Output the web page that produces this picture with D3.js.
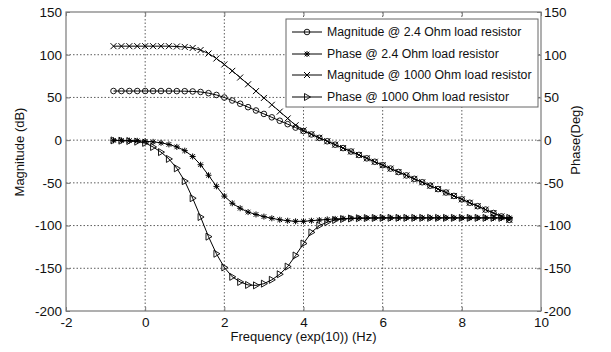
<!DOCTYPE html>
<html>
<head>
<meta charset="utf-8">
<script src="https://cdn.jsdelivr.net/npm/d3@7"></script>
<style>
  html, body { margin: 0; padding: 0; background: #fff; }
  svg { display: block; font-family: "Liberation Sans", Arial, sans-serif; }
</style>
</head>
<body>
<svg id="chart" width="611" height="352"></svg>
<script>
// ---------------- data ----------------
const freq = [-0.8,-0.6,-0.4,-0.2,0,0.2,0.4,0.6,0.8,1.0,1.2,1.4,1.6,1.8,2.0,2.2,2.4,2.6,2.8,3.0,
  3.2,3.4,3.6,3.8,4.0,4.2,4.4,4.6,4.8,5.0,5.2,5.4,5.6,5.8,6.0,6.2,6.4,6.6,6.8,7.0,
  7.2,7.4,7.6,7.8,8.0,8.2,8.4,8.6,8.8,9.0,9.2];

const mag24 = [57.5,57.5,57.5,57.5,57.5,57.5,57.5,57.5,57.4,57.3,57.0,56.4,55.0,52.9,49.9,46.4,42.6,38.6,34.7,30.7,
  26.7,22.7,18.7,14.7,10.7,6.7,2.7,-1.3,-5.3,-9.3,-13.3,-17.3,-21.3,-25.3,-29.3,-33.3,-37.3,-41.3,-45.3,-49.3,
  -53.3,-57.3,-61.3,-65.3,-69.3,-73.3,-77.3,-81.3,-85.3,-89.3,-93.3];

const phase24 = [-0.2,-0.3,-0.5,-0.8,-1.3,-2.0,-3.1,-5.0,-7.9,-12.3,-19.1,-28.8,-41.1,-54.1,-65.5,-73.9,-79.7,-84.2,-87.0,-89.5,
  -91.5,-93.2,-94.3,-95.0,-95.0,-94.3,-93.5,-92.8,-92.2,-91.8,-91.5,-91.3,-91.2,-91.1,-91.0,-91.0,-91.0,-91.0,-91.0,-91.0,
  -91.0,-91.0,-91.0,-91.0,-91.0,-91.0,-91.0,-91.0,-91.0,-91.0,-91.0];

const mag1000 = [110,110,110,110,110,110,110,110,109.6,109.1,107.9,105.5,101.4,95.6,88.6,81.1,73.3,65.4,57.4,49.4,
  41.4,33.4,25.4,17.4,11.5,6.9,2.8,-1.3,-5.3,-9.3,-13.3,-17.3,-21.3,-25.3,-29.3,-33.3,-37.3,-41.3,-45.3,-49.3,
  -53.3,-57.3,-61.3,-65.3,-69.3,-73.3,-77.3,-81.3,-85.3,-89.3,-93.3];

const phase1000 = [-0.3,-0.6,-1.0,-1.8,-3.2,-8,-14,-22,-33,-48,-68,-90,-113,-133,-149,-160,-166,-169.5,-170,-168,
  -163.5,-157,-148,-135,-121,-108,-100,-96,-93.5,-92.3,-91.7,-91.4,-91.2,-91.1,-91.0,-91.0,-91.0,-91.0,-91.0,-91.0,
  -91.0,-91.0,-91.0,-91.0,-91.0,-91.0,-91.0,-91.0,-91.0,-91.0,-91.0];

const xTicks = [-2,0,2,4,6,8,10];
const yTicks = [-200,-150,-100,-50,0,50,100,150];

const seriesNames = [
  "Magnitude @ 2.4 Ohm load resistor",
  "Phase @ 2.4 Ohm load resistor",
  "Magnitude @ 1000 Ohm load resistor",
  "Phase @ 1000 Ohm load resistor"
];
const seriesValues = [mag24, phase24, mag1000, phase1000];
const seriesMarkers = ["circle", "asterisk", "cross", "triangle"];

// ---------------- layout ----------------
const L = 66, R = 541, T = 12, B = 311;
const svg = d3.select("#chart");
svg.append("rect").attr("width", 611).attr("height", 352).attr("fill", "#fff");

const x = d3.scaleLinear().domain([-2, 10]).range([L, R]);
const yL = d3.scaleLinear().domain([-200, 150]).range([B, T]);
const yR = d3.scaleLinear().domain([-200, 150]).range([B, T]);
const fmt = d => String(d);

// grid
const grid = svg.append("g");
xTicks.filter(t => t > -2 && t < 10).forEach(t => {
  grid.append("line").attr("x1", x(t)).attr("x2", x(t)).attr("y1", T).attr("y2", B)
    .attr("stroke", "#333").attr("stroke-width", 0.8).attr("stroke-dasharray", "1.5,2");
});
yTicks.filter(t => t > -200 && t < 150).forEach(t => {
  grid.append("line").attr("x1", L).attr("x2", R).attr("y1", yL(t)).attr("y2", yL(t))
    .attr("stroke", "#333").attr("stroke-width", 0.8).attr("stroke-dasharray", "1.5,2");
});

// axes
const axisColor = "#7a7a7a";
function styleAxis(g) {
  g.select(".domain").remove();
  g.selectAll(".tick line").attr("stroke", axisColor);
  g.selectAll(".tick text").attr("fill", "#111").style("font-size", "13.5px")
    .style("font-family", "'Liberation Sans', Arial, sans-serif");
}
svg.append("g").attr("transform", `translate(0,${B})`)
  .call(d3.axisBottom(x).tickValues(xTicks).tickSize(-4).tickPadding(6).tickFormat(fmt))
  .call(styleAxis);
svg.append("g").attr("transform", `translate(0,${T})`)
  .call(d3.axisTop(x).tickValues(xTicks).tickSize(-4).tickFormat(""))
  .call(styleAxis);
svg.append("g").attr("transform", `translate(${L},0)`)
  .call(d3.axisLeft(yL).tickValues(yTicks).tickSize(-4).tickPadding(4).tickFormat(fmt))
  .call(styleAxis);
svg.append("g").attr("transform", `translate(${R},0)`)
  .call(d3.axisRight(yR).tickValues(yTicks).tickSize(-4).tickPadding(3).tickFormat(fmt))
  .call(styleAxis);

// frame
svg.append("rect").attr("x", L).attr("y", T).attr("width", R - L).attr("height", B - T)
  .attr("fill", "none").attr("stroke", axisColor).attr("stroke-width", 1.2);

// axis titles
svg.append("text").attr("x", (L + R) / 2).attr("y", 341).attr("text-anchor", "middle")
  .style("font-size", "13px").attr("fill", "#111").text("Frequency (exp(10)) (Hz)");
svg.append("text").attr("transform", "translate(24,152) rotate(-90)").attr("text-anchor", "middle")
  .style("font-size", "13px").attr("fill", "#111").text("Magnitude (dB)");
svg.append("text").attr("transform", "translate(580,140) rotate(-90)").attr("text-anchor", "middle")
  .style("font-size", "13px").attr("fill", "#111").text("Phase(Deg)");

// markers
function drawMarker(g, type, cx, cy) {
  const s = 3;
  if (type === "circle") {
    g.append("circle").attr("cx", cx).attr("cy", cy).attr("r", 2.8)
      .attr("fill", "none").attr("stroke", "#000").attr("stroke-width", 0.9);
  } else if (type === "cross") {
    g.append("path").attr("d", `M${cx - s},${cy - s}L${cx + s},${cy + s}M${cx - s},${cy + s}L${cx + s},${cy - s}`)
      .attr("stroke", "#000").attr("stroke-width", 1);
  } else if (type === "asterisk") {
    const d = 2.3;
    g.append("path").attr("d",
      `M${cx - s},${cy}L${cx + s},${cy}M${cx},${cy - s}L${cx},${cy + s}M${cx - d},${cy - d}L${cx + d},${cy + d}M${cx - d},${cy + d}L${cx + d},${cy - d}`)
      .attr("stroke", "#000").attr("stroke-width", 1);
  } else if (type === "triangle") {
    g.append("path").attr("d", `M${cx + 3.5},${cy}L${cx - 2.5},${cy - 3.5}L${cx - 2.5},${cy + 3.5}Z`)
      .attr("fill", "none").attr("stroke", "#000").attr("stroke-width", 0.9);
  }
}

// series
const line = d3.line();
const plot = svg.append("g");
seriesValues.forEach((vals, i) => {
  const pts = freq.map((f, j) => [x(f), yL(vals[j])]);
  plot.append("path").attr("d", line(pts)).attr("fill", "none")
    .attr("stroke", "#000").attr("stroke-width", 1);
  const mg = plot.append("g");
  pts.forEach(p => drawMarker(mg, seriesMarkers[i], p[0], p[1]));
});

// legend
const lg = svg.append("g");
lg.append("rect").attr("x", 286).attr("y", 19).attr("width", 252).attr("height", 88)
  .attr("fill", "#fff").attr("stroke", "#666").attr("stroke-width", 1);
const rowY = [32, 54, 75, 97];
seriesNames.forEach((name, i) => {
  lg.append("line").attr("x1", 292).attr("x2", 322).attr("y1", rowY[i]).attr("y2", rowY[i])
    .attr("stroke", "#000").attr("stroke-width", 1);
  drawMarker(lg, seriesMarkers[i], 307, rowY[i]);
  lg.append("text").attr("x", 327).attr("y", rowY[i]).attr("dy", "0.35em")
    .style("font-size", "12.3px").attr("fill", "#111").text(name);
});
</script>
</body>
</html>
